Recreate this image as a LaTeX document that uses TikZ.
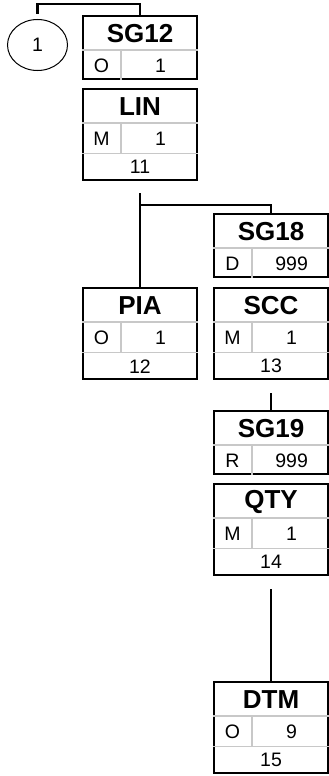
\documentclass[tikz,border=0pt]{standalone}
\usepackage{fontspec}
\setmainfont{Liberation Sans}
\usepackage{tikz}
\usetikzlibrary{shapes.geometric}

\definecolor{cellgray}{RGB}{200,200,200}

\tikzset{
  outer/.style={draw=black,line width=2.2pt,minimum width=114pt,anchor=north,inner sep=0pt},
  link/.style={draw=black,line width=2.2pt},
  cell/.style={draw=cellgray,line width=1.2pt},
  title/.style={font=\fontsize{26}{29}\selectfont\bfseries,inner sep=0pt},
  val/.style={font=\fontsize{19.5}{22}\selectfont,inner sep=0pt}
}

% group box: title, status, repeat
\newcommand{\grpbox}[6]{
\node[outer,minimum height=63pt] (#1) at (#2,#3) {};
\node[title] (#1-t) at ([yshift=-18.5pt]#1.north) {#4};
\draw[cell] ([yshift=-35pt]#1.north west) -- ([yshift=-35pt]#1.north east);
\draw[cell] ([xshift=39pt,yshift=-35pt]#1.north west) -- ([xshift=39pt]#1.south west);
\node[val] (#1-s) at ([xshift=19.5pt,yshift=14.5pt]#1.south west) {#5};
\node[val] (#1-r) at ([xshift=-37.5pt,yshift=14.5pt]#1.south east) {#6};
}

% segment box: title, status, repeat, position
\newcommand{\segbox}[7]{
\node[outer,minimum height=91pt] (#1) at (#2,#3) {};
\node[title] (#1-t) at ([yshift=-18.5pt]#1.north) {#4};
\draw[cell] ([yshift=-35pt]#1.north west) -- ([yshift=-35pt]#1.north east);
\draw[cell] ([yshift=28pt]#1.south west) -- ([yshift=28pt]#1.south east);
\draw[cell] ([xshift=39pt,yshift=-35pt]#1.north west) -- ([xshift=39pt,yshift=28pt]#1.south west);
\node[val] (#1-s) at ([xshift=19.5pt,yshift=42.5pt]#1.south west) {#5};
\node[val] (#1-r) at ([xshift=-37.5pt,yshift=42.5pt]#1.south east) {#6};
\node[val] (#1-p) at ([yshift=14pt]#1.south) {#7};
}

\begin{document}
\begin{tikzpicture}[x=1pt,y=1pt]
\useasboundingbox (0,0) rectangle (329,-776);

\node[draw=black,line width=1pt,ellipse,minimum width=60pt,minimum height=51pt,
  font=\fontsize{19.5}{22}\selectfont] (c1) at (37.5,-45) {1};

\grpbox{sg12}{140}{-15}{SG12}{O}{1}
\segbox{lin}{140}{-88}{LIN}{M}{1}{11}
\grpbox{sg18}{271}{-213}{SG18}{D}{999}
\segbox{pia}{140}{-287}{PIA}{O}{1}{12}
\segbox{scc}{271}{-287}{SCC}{M}{1}{13}
\grpbox{sg19}{271}{-410}{SG19}{R}{999}
\segbox{qty}{271}{-483}{QTY}{M}{1}{14}
\segbox{dtm}{271}{-681}{DTM}{O}{9}{15}

\draw[link] ([yshift=5pt]c1.north) -- ++(0,10) -| (sg12.north);
\draw[link] ([yshift=-12pt]lin.south) -- (pia.north);
\draw[link] ([yshift=-24pt]lin.south) -| (sg18.north);
\draw[link] ([yshift=-13pt]scc.south) -- (sg19.north);
\draw[link] ([yshift=-13pt]qty.south) -- (dtm.north);
\end{tikzpicture}
\end{document}
